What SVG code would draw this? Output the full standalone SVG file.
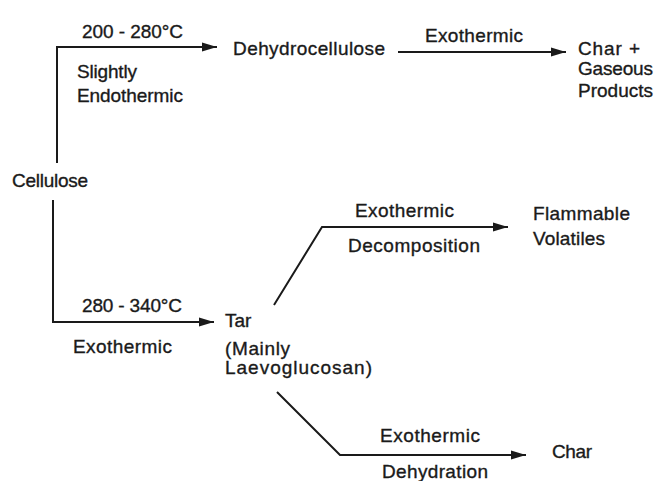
<svg xmlns="http://www.w3.org/2000/svg" width="657" height="481" viewBox="0 0 657 481">
<style>
text{font-family:"Liberation Sans",Arial,sans-serif;font-size:19px;fill:#1a1a1a;stroke:#1a1a1a;stroke-width:0.35;}
.c{fill:none;stroke:#1a1a1a;stroke-width:2;}
</style>
<defs>
<marker id="ah" markerUnits="userSpaceOnUse" markerWidth="16" markerHeight="10" refX="15" refY="5" orient="auto">
<path d="M0,0.5 L15,5 L0,9.5 Z" fill="#1a1a1a"/>
</marker>
</defs>
<rect width="657" height="481" fill="#fff"/>
<g id="connectors">
<path class="c" d="M57,163 V47 H217" marker-end="url(#ah)"/>
<path class="c" d="M398,52 H566" marker-end="url(#ah)"/>
<path class="c" d="M53,200 V322 H214" marker-end="url(#ah)"/>
<path class="c" d="M274,305 L322,227 H508" marker-end="url(#ah)"/>
<path class="c" d="M277,392 L340,455 H526" marker-end="url(#ah)"/>
</g>
<g id="labels">
<text x="82" y="38" textLength="101">200 - 280°C</text>
<text x="77" y="78" textLength="60">Slightly</text>
<text x="77" y="102" textLength="106">Endothermic</text>
<text x="425" y="42" textLength="98">Exothermic</text>
<text x="82" y="312" textLength="100">280 - 340°C</text>
<text x="73" y="353" textLength="99">Exothermic</text>
<text x="355" y="217" textLength="99">Exothermic</text>
<text x="348" y="252" textLength="132">Decomposition</text>
<text x="380" y="442" textLength="100">Exothermic</text>
<text x="382" y="478" textLength="106">Dehydration</text>
</g>
<g id="cellulose"><text x="12" y="187" textLength="76">Cellulose</text></g>
<g id="dehydrocellulose"><text x="233" y="55" textLength="152">Dehydrocellulose</text></g>
<g id="char-gaseous">
<text x="578" y="55" textLength="62">Char  +</text>
<text x="578" y="75" textLength="75">Gaseous</text>
<text x="578" y="97" textLength="75">Products</text>
</g>
<g id="tar">
<text x="225" y="327">Tar</text>
<text x="225" y="355" textLength="65">(Mainly</text>
<text x="225" y="374" textLength="147">Laevoglucosan)</text>
</g>
<g id="flammable">
<text x="533" y="220" textLength="97">Flammable</text>
<text x="533" y="245" textLength="72">Volatiles</text>
</g>
<g id="char"><text x="552" y="458" textLength="40">Char</text></g>
</svg>
